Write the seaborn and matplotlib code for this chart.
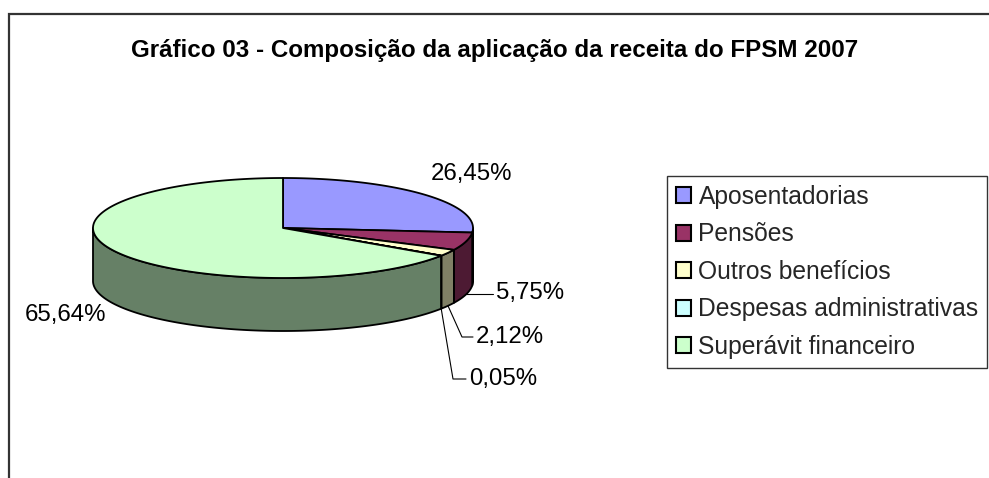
import numpy as np
import matplotlib
matplotlib.use('Agg')
import matplotlib.pyplot as plt
from matplotlib.colors import to_rgb
from matplotlib.patches import Polygon, Patch
import seaborn as sns

# Data
title = 'Gráfico 03 - Composição da aplicação da receita do FPSM 2007'
categories = ['Aposentadorias', 'Pensões', 'Outros benefícios',
              'Despesas administrativas', 'Superávit financeiro']
shares = [26.45, 5.75, 2.12, 0.05, 65.64]
value_labels = ['26,45%', '5,75%', '2,12%', '0,05%', '65,64%']
top_colors = ['#9999FF', '#993366', '#FFFFCC', '#CCFFFF', '#CCFFCC']

sns.set_theme(style='white')
plt.rcParams['font.family'] = ['Liberation Sans', 'DejaVu Sans']

W, H = 989, 478
fig = plt.figure(figsize=(W / 100, H / 100), dpi=100)
ax = fig.add_axes([0, 0, 1, 1])
ax.set_xlim(0, W)
ax.set_ylim(H, 0)
ax.axis('off')

# pie geometry in pixels (layout)
cx, cy, rx, ry, depth = 283, 228, 190, 50, 53
lw = 1.3


def ell(theta, dy=0.0):
    t = np.radians(theta)
    return np.column_stack([cx + rx * np.cos(t), cy - ry * np.sin(t) + dy])


fracs = np.array(shares) / np.sum(shares)
ends = 90 - 360 * np.cumsum(fracs)
starts = np.concatenate([[90], ends[:-1]])
side_colors = [tuple(0.5 * np.array(to_rgb(c))) for c in top_colors]

# front side faces (visible for angles between -180 and 0)
for s, e, col in zip(starts, ends, side_colors):
    lo, hi = max(e, -180), min(s, 0)
    if hi <= lo:
        continue
    top = ell(np.linspace(hi, lo, 200))
    bot = ell(np.linspace(lo, hi, 200), depth)
    ax.add_patch(Polygon(np.vstack([top, bot]), closed=True, facecolor=col,
                         edgecolor='black', linewidth=lw, joinstyle='round'))

# top wedges
for s, e, col in zip(starts, ends, top_colors):
    arc = ell(np.linspace(s, e, 300))
    pts = np.vstack([[cx, cy], arc])
    ax.add_patch(Polygon(pts, closed=True, facecolor=col, edgecolor='black',
                         linewidth=lw, joinstyle='round'))

# value labels with leader lines (text positions are layout)
label_pos = [(471, 174), (496, 293), (476, 337), (469, 379), (65, 315)]
label_ha = ['center', 'left', 'left', 'left', 'center']
elbows = [None, 'flat', (462, 337), (453, 379), None]
mids = (starts + ends) / 2
for i, (txt, (tx, ty), ha) in enumerate(zip(value_labels, label_pos, label_ha)):
    ax.text(tx, ty, txt, ha=ha, va='center', fontsize=17.3, color='black')
    if elbows[i] is None:
        continue
    ax_, ay_ = ell(np.array([mids[i]]), depth)[0]
    if elbows[i] == 'flat':
        xs, ys = [ax_, tx - 3], [ay_, ay_]
    else:
        ex, ey = elbows[i]
        xs, ys = [ax_, ex, tx - 3], [ay_, ey, ey]
    ax.plot(xs, ys, color='black', linewidth=0.8)

ax.text(495, 50, title, ha='center', va='center', fontsize=17.4,
        fontweight='bold', color='black')

# chart area border (cut at right and bottom)
ax.plot([9, 9, W + 5], [H + 5, 14, 14], color='#333333', linewidth=1.6,
        solid_joinstyle='miter')

handles = [Patch(facecolor=c, edgecolor='black', linewidth=1.5) for c in top_colors]
leg = ax.legend(handles, categories, loc='upper left',
                bbox_to_anchor=(667 / W, 1 - 176 / H), bbox_transform=fig.transFigure,
                frameon=True, fancybox=False, shadow=False, fontsize=17.7,
                handlelength=0.62, handleheight=0.62, handletextpad=0.3,
                borderpad=0.36, labelspacing=0.55, borderaxespad=0)
leg.get_frame().set_edgecolor('black')
leg.get_frame().set_linewidth(1.0)

fig.savefig('out.png', dpi=100, facecolor='white')
